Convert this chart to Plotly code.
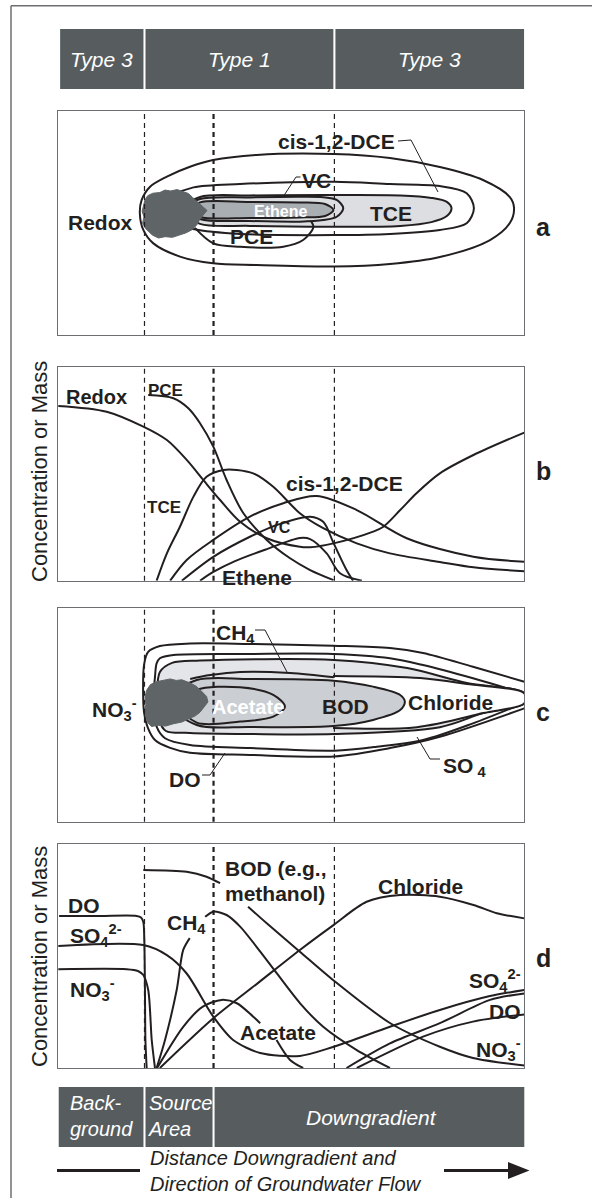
import plotly.graph_objects as go

W, H = 592, 1198
INK = '#231f20'
BOX = '#575d5f'
FRAME = '#6d6e71'
FONT = 'Liberation Sans, Arial, Helvetica, sans-serif'
TCE_FILL = '#dcdee1'
ETH_FILL = '#a9aeb3'
BLOB = '#5f6466'
C_LIGHT = '#e3e5e8'
C_MID = '#cbced3'

# ---------------- data (distance 0-100, relative concentration 0-100) ----------------
zone_bounds = [18.6, 33.4, 59.3]
zone_dash_width = [1.2, 2.2, 1.2]
header_labels = ['Type 3', 'Type 1', 'Type 3']
header_edges = [0.3, 18.6, 59.3, 100.2]
bottom_edges = [0.0, 18.6, 33.4, 100.5]

# panel a: chlorinated solvent plume contours
a_outer_x = [18.0, 19.8, 23.4, 28.35, 33.3, 42.65, 59.2, 71.2, 81.9, 91.15, 96.9, 97.8, 96.9, 92.65, 81.9, 71.2, 59.2, 42.65, 33.3, 26.2, 20.5, 18.35, 17.6, 18.0]
a_outer_y = [60.3, 66.2, 70.7, 75.1, 78.1, 80.4, 80.8, 79.0, 75.0, 69.2, 61.6, 56.7, 50.0, 42.4, 34.8, 31.7, 30.6, 31.25, 32.0, 35.0, 40.9, 46.9, 54.5, 60.3]
a_mid_x = [19.8, 24.8, 29.1, 39.07, 59.3, 71.2, 81.9, 87.65, 89.2, 87.65, 81.9, 71.2, 59.2, 39.07, 29.0, 24.1, 19.8]
a_mid_y = [54.9, 62.5, 65.9, 67.4, 68.4, 67.4, 66.5, 63.3, 56.6, 49.9, 46.9, 45.1, 44.6, 45.1, 47.3, 50.4, 54.9]
a_tce_x = [26.3, 30.5, 41.2, 59.2, 73.4, 80.1, 83.4, 84.4, 83.4, 80.1, 73.4, 59.2, 41.2, 30.5, 26.3]
a_tce_y = [55.8, 61.6, 62.3, 62.5, 62.3, 61.2, 59.4, 56.6, 53.1, 50.4, 48.7, 48.3, 48.7, 49.6, 55.8]
a_vc_x = [27.3, 30.5, 41.2, 51.9, 56.9, 59.8, 61.2, 59.8, 56.9, 51.9, 41.2, 30.5, 27.3]
a_vc_y = [56.7, 60.7, 61.4, 61.7, 61.5, 60.3, 56.6, 52.8, 51.3, 50.6, 50.9, 51.8, 56.7]
a_eth_x = [28.4, 30.5, 41.2, 51.9, 57.3, 59.1, 57.3, 51.9, 41.2, 30.5, 28.4]
a_eth_y = [55.8, 59.2, 59.4, 59.2, 58.5, 55.8, 53.1, 52.5, 52.2, 52.7, 55.8]
a_pce_x = [29.4, 33.35, 39.07, 48.35, 52.6, 54.8, 54.1]
a_pce_y = [47.8, 40.9, 39.4, 39.4, 42.4, 48.3, 51.3]
a_src_x = [18.7, 19.3, 20.4, 21.9, 23.0, 24.2, 25.6, 26.8, 28.0, 28.9, 29.9, 31.0, 32.0, 31.2, 30.4, 29.8, 28.7, 27.5, 26.0, 24.6, 23.0, 21.6, 20.3, 19.5, 18.8, 18.2, 18.5, 18.1, 18.4, 18.7]
a_src_y = [60.3, 62.2, 63.3, 63.6, 64.7, 64.3, 64.9, 63.9, 63.2, 61.4, 59.6, 57.8, 55.6, 53.6, 51.5, 49.1, 46.9, 45.6, 44.6, 43.6, 43.9, 43.3, 44.6, 46.3, 47.6, 50.0, 52.7, 55.2, 57.8, 60.3]

# panel b: concentration profiles
b_redox_x = [0.13, 10.5, 18.35, 23.4, 27.65, 31.2, 34.8, 39.1, 44.8, 51.9, 54.1, 59.1, 67.6, 69.8, 73.4, 76.9, 81.9, 89.1, 100]
b_redox_y = [81.9, 79.2, 72.2, 65.9, 56.6, 47.2, 37.8, 27.6, 19.9, 15.9, 15.7, 17.5, 23.0, 25.3, 33.1, 41.0, 50.3, 58.9, 69.4]
b_pce_x = [19.4, 24.8, 28.0, 30.5, 33.35, 36.2, 39.8, 44.8, 49.8, 54.1, 59.1]
b_pce_y = [87.0, 85.5, 80.8, 73.8, 62.8, 47.2, 31.6, 19.1, 10.5, 5.0, 0.3]
b_tce_x = [21.2, 23.4, 26.2, 29.1, 31.9, 35.5, 38.4, 41.9, 46.2, 51.9, 56.9, 64.1, 71.2, 81.9, 89.1, 100]
b_tce_y = [0, 12.8, 25.3, 39.4, 48.7, 51.9, 51.9, 50.3, 44.0, 31.6, 24.6, 17.5, 12.8, 8.8, 6.3, 4.4]
b_dce_x = [24.1, 27.65, 33.35, 41.2, 48.35, 55.5, 64.1, 74.8, 89.1, 100]
b_dce_y = [0, 9.7, 19.1, 30.0, 36.3, 39.7, 33.1, 19.9, 11.2, 8.9]
b_vc_x = [26.6, 33.35, 41.2, 47.5, 54.1, 56.9, 59.1, 61.9, 63.3]
b_vc_y = [0, 11.2, 20.6, 26.5, 30.0, 27.6, 17.7, 5.0, 0]
b_eth_x = [30.5, 33.35, 38.0, 44.8, 51.9, 54.1, 57.65, 60.5, 65.2]
b_eth_y = [0, 4.1, 9.2, 14.8, 20.0, 19.5, 12.8, 3.5, 0]

# panel c: fuel hydrocarbon plume contours
c_do_x = [100, 89.0, 78.3, 71.2, 59.0, 41.2, 28.35, 21.9, 19.35, 18.5, 18.3, 18.5, 19.35, 20.85, 24.1, 28.35, 41.2, 59.2, 71.2, 81.9, 100]
c_do_y = [65.6, 72.6, 79.1, 81.4, 82.5, 83.3, 83.5, 82.3, 79.5, 73.4, 61.8, 51.4, 43.9, 38.3, 34.6, 32.3, 31.3, 30.6, 34.5, 39.8, 53.1]
c_so4_x = [99.8, 89.0, 78.3, 71.2, 59.0, 41.2, 24.8, 21.9, 21.2, 20.85, 20.5, 20.85, 21.2, 23.0, 28.35, 41.2, 59.3, 68.4, 78.3, 89.0, 99.8]
c_so4_y = [60.2, 67.2, 73.4, 76.6, 78.6, 78.6, 78.1, 76.6, 74.2, 67.9, 57.0, 50.0, 44.5, 39.1, 35.9, 34.5, 33.3, 35.1, 38.3, 46.1, 55.5]
c_ch4_x = [21.3, 21.9, 24.5, 30.5, 59.2, 74.9, 87.7, 100, 100, 91.2, 81.9, 59.2, 41.2, 28.35, 23.2, 21.7, 21.3]
c_ch4_y = [59.4, 70.1, 74.4, 75.5, 75.8, 72.0, 65.0, 60.2, 55.5, 50.9, 44.3, 41.1, 41.1, 41.6, 42.5, 47.7, 59.4]
c_cl_x = [59.0, 77.7, 87.7, 100, 100, 91.2, 77.0, 59.0]
c_cl_y = [68.3, 67.3, 64.5, 60.2, 55.5, 50.9, 44.3, 43.9]
c_bod_x = [23.0, 29.8, 41.2, 59.1, 67.6, 73.4, 74.4, 73.4, 67.6, 59.1, 41.2, 29.8, 23.0]
c_bod_y = [57.0, 66.4, 66.9, 66.1, 63.3, 59.4, 56.2, 52.3, 47.7, 44.8, 44.4, 45.3, 57.0]
c_ace_x = [26.2, 29.8, 39.07, 46.2, 48.7, 46.2, 39.07, 29.8, 26.2]
c_ace_y = [54.7, 61.7, 63.0, 59.4, 53.9, 49.2, 46.9, 46.4, 54.7]
c_meth_x = [28.4, 32.7, 39.07, 49.8, 59.2]
c_meth_y = [66.9, 68.7, 70.2, 69.7, 67.7]
c_src_x = [19.1, 19.9, 21.2, 22.4, 24.1, 25.4, 26.6, 28.4, 29.6, 30.8, 31.9, 32.2, 31.4, 30.5, 29.5, 28.3, 26.6, 24.8, 23.1, 21.5, 20.1, 19.2, 18.9, 18.6, 18.9, 18.7, 19.1]
c_src_y = [61.7, 64.3, 65.6, 66.1, 66.9, 66.2, 66.5, 65.0, 63.6, 61.2, 58.7, 56.1, 53.7, 51.3, 49.6, 48.3, 46.7, 45.9, 44.8, 45.2, 44.6, 46.7, 49.5, 52.2, 55.0, 58.4, 61.7]

# panel d: electron acceptor / donor profiles
d_do_x = [0.3, 9.07, 16.9, 17.85, 18.35, 18.56, 18.7, 18.8, 19.07, None, 61.9, 71.2, 81.9, 92.65, 100]
d_do_y = [67.9, 67.9, 67.9, 67.2, 65.2, 57.1, 34.8, 12.5, 0, None, 0, 11.0, 20.0, 30.4, 33.3]
d_so4_x = [0.13, 18.35, 23.4, 27.6, 33.35, 37.6, 43.4, 51.9, 59.0, 71.2, 81.9, 92.65, 100]
d_so4_y = [54.5, 54.9, 50.4, 42.3, 22.9, 12.5, 6.7, 5.4, 9.4, 18.4, 25.9, 32.1, 34.8]
d_no3_x = [0.13, 14.8, 17.2, 18.35, 19.4, 20.15, 20.85, None, 64.1, 78.3, 89.0, 100]
d_no3_y = [44.1, 44.1, 43.3, 41.5, 34.8, 12.5, 0, None, 0, 14.0, 20.7, 23.9]
d_bod_x = [18.35, 27.65, 31.9, 34.8, None, 40.8, 44.8, 51.9, 59.0, 71.2, 81.9, 89.0, 100]
d_bod_y = [88.4, 87.6, 85.4, 82.5, None, 72.0, 64.6, 51.9, 39.3, 20.1, 9.5, 4.5, 1.1]
d_ch4_x = [21.2, 23.0, 25.5, 26.9, 28.3, None, 31.6, 33.35, 36.2, 39.1, 44.8, 51.9, 56.9, 64.1, 71.2]
d_ch4_y = [0, 12.5, 34.8, 52.7, 58.0, None, 67.5, 69.8, 68.3, 63.1, 48.2, 29.0, 18.4, 8.0, 0]
d_ace_x = [21.3, 26.9, 31.1, 35.1, 38.4, 41.9, 43.4, None, 46.9, 49.8, 52.6]
d_ace_y = [0, 18.4, 27.4, 30.4, 28.9, 22.9, 20.0, None, 12.5, 3.6, 0]
d_cl_x = [21.9, 33.35, 42.9, 51.9, 59.1, 66.2, 73.4, 81.9, 89.1, 94.1, 100]
d_cl_y = [0, 22.2, 37.9, 52.7, 63.8, 74.2, 77.2, 76.5, 72.8, 69.1, 66.8]

# ---------------- layout geometry (pixels) ----------------
PX_L, PX_R = 57.7, 524.3
panels = [(111, 335), (367.3, 580.7), (608.3, 821.7), (844, 1068)]


def px(xp):
    return xp / W


def py(yp):
    return 1 - yp / H


fig = go.Figure()


def sfx(i):
    return '' if i == 0 else str(i + 1)


def add(xs, ys, i, fill=None, width=2.0, shape='spline', smooth=0.9, linecolor=INK):
    s = sfx(i)
    kw = {}
    if fill is not None:
        kw = dict(fill='toself', fillcolor=fill)
    fig.add_trace(go.Scatter(
        x=xs, y=ys, mode='lines', xaxis='x' + s, yaxis='y' + s,
        line=dict(color=linecolor, width=width, shape=shape,
                  smoothing=smooth if shape == 'spline' else None),
        hoverinfo='skip', showlegend=False, **kw))


# panel a
add(a_outer_x, a_outer_y, 0)
add(a_mid_x, a_mid_y, 0)
add(a_tce_x, a_tce_y, 0, fill=TCE_FILL)
add(a_pce_x, a_pce_y, 0)
add(a_vc_x, a_vc_y, 0, fill=TCE_FILL)
add(a_eth_x, a_eth_y, 0, fill=ETH_FILL)
add(a_src_x, a_src_y, 0, fill=BLOB, shape='linear', linecolor=BLOB, width=1)

# panel b
for xs, ys in [(b_redox_x, b_redox_y), (b_pce_x, b_pce_y), (b_tce_x, b_tce_y),
               (b_dce_x, b_dce_y), (b_vc_x, b_vc_y), (b_eth_x, b_eth_y)]:
    add(xs, ys, 1)

# panel c
add(c_do_x, c_do_y, 2)
add(c_so4_x, c_so4_y, 2)
add(c_ch4_x, c_ch4_y, 2, fill=C_LIGHT)
add(c_cl_x, c_cl_y, 2, fill='white')
add(c_bod_x, c_bod_y, 2, fill=C_MID)
add(c_ace_x, c_ace_y, 2, fill=C_MID)
add(c_meth_x, c_meth_y, 2)
add(c_src_x, c_src_y, 2, fill=BLOB, shape='linear', linecolor=BLOB, width=1)

# panel d
for xs, ys in [(d_do_x, d_do_y), (d_so4_x, d_so4_y), (d_no3_x, d_no3_y),
               (d_bod_x, d_bod_y), (d_ch4_x, d_ch4_y), (d_ace_x, d_ace_y),
               (d_cl_x, d_cl_y)]:
    add(xs, ys, 3, smooth=0.8)

layout = dict(width=W, height=H, margin=dict(l=0, r=0, t=0, b=0),
              paper_bgcolor='white', plot_bgcolor='rgba(0,0,0,0)', showlegend=False)
for i, (top, bot) in enumerate(panels):
    s = sfx(i)
    layout['xaxis' + s] = dict(domain=[px(PX_L), px(PX_R)], range=[0, 100], anchor='y' + s,
                               showgrid=False, zeroline=False, showticklabels=False, ticks='',
                               showline=True, mirror=True, linecolor=FRAME, linewidth=1.3,
                               fixedrange=True)
    layout['yaxis' + s] = dict(domain=[py(bot), py(top)], range=[0, 100], anchor='x' + s,
                               showgrid=False, zeroline=False, showticklabels=False, ticks='',
                               showline=True, mirror=True, linecolor=FRAME, linewidth=1.3,
                               fixedrange=True)
fig.update_layout(**layout)

shapes = []
# zone dashed lines
for i in range(4):
    s = sfx(i)
    for b, w in zip(zone_bounds, zone_dash_width):
        shapes.append(dict(type='line', xref='x' + s, yref='y' + s + ' domain', x0=b, x1=b,
                           y0=0, y1=1, line=dict(color=INK, width=w, dash='5px,4px'), layer='above'))

gap = 0.22
for k in range(3):
    shapes.append(dict(type='rect', xref='x', yref='paper', x0=header_edges[k] + gap,
                       x1=header_edges[k + 1] - gap, y0=py(89), y1=py(29),
                       fillcolor=BOX, line=dict(width=0), layer='below'))
    shapes.append(dict(type='rect', xref='x', yref='paper', x0=bottom_edges[k] + gap,
                       x1=bottom_edges[k + 1] - gap, y0=py(1147), y1=py(1087),
                       fillcolor=BOX, line=dict(width=0), layer='below'))

# outer frame (left and top)
shapes.append(dict(type='line', xref='paper', yref='paper', x0=px(11), x1=px(11), y0=py(5.7), y1=0,
                   line=dict(color=FRAME, width=1.5)))
shapes.append(dict(type='line', xref='paper', yref='paper', x0=px(11), x1=1, y0=py(5.7), y1=py(5.7),
                   line=dict(color=FRAME, width=1.5)))

# flow arrow
shapes.append(dict(type='line', xref='paper', yref='paper', x0=px(57), x1=px(140), y0=py(1170.5),
                   y1=py(1170.5), line=dict(color=INK, width=3)))
shapes.append(dict(type='line', xref='paper', yref='paper', x0=px(444), x1=px(510), y0=py(1170.5),
                   y1=py(1170.5), line=dict(color=INK, width=3)))
shapes.append(dict(type='path', xref='paper', yref='paper',
                   path=f'M {px(508)} {py(1162)} L {px(529.5)} {py(1170.5)} L {px(508)} {py(1179)} Z',
                   fillcolor=INK, line=dict(width=0)))


def leader(pts):
    path = 'M ' + ' L '.join(f'{px(a)} {py(b)}' for a, b in pts)
    shapes.append(dict(type='path', xref='paper', yref='paper', path=path,
                       line=dict(color=INK, width=1)))


leader([(398, 141), (411, 140), (438, 192)])
leader([(300.5, 177), (296, 177), (283, 197)])
leader([(255, 630), (265, 630), (287, 672)])
leader([(440, 759), (430, 759), (417, 737)])
leader([(202, 775), (210, 775), (225, 753)])
fig.update_layout(shapes=shapes)

anns = []


def ann(text, x, y, size=21, bold=True, color=INK, xa='center', ya='middle', italic=False,
        angle=0, align='center'):
    anns.append(dict(x=px(x), y=py(y), xref='paper', yref='paper', text=text, showarrow=False,
                     font=dict(family=FONT, size=size, color=color,
                               weight='bold' if bold else 'normal',
                               style='italic' if italic else 'normal'),
                     xanchor=xa, yanchor=ya, textangle=angle, align=align))


# header / footer
for k, lab in enumerate(header_labels):
    xc = PX_L + (header_edges[k] + header_edges[k + 1]) / 2 * (PX_R - PX_L) / 100
    ann(lab, xc, 59, bold=False, italic=True, color='white')
ann('Back-<br>ground', 68, 1116, size=20, bold=False, italic=True, color='white', xa='left', align='left')
ann('Source<br>Area', 145.5, 1116, size=20, bold=False, italic=True, color='white', xa='left', align='left')
ann('Downgradient', 371.7, 1117, bold=False, italic=True, color='white')
ann('Distance Downgradient and<br>Direction of Groundwater Flow', 148, 1171, size=20,
    bold=False, italic=True, xa='left', align='left')

# y titles
ann('Concentration or Mass', 39, 472, size=22, bold=False, angle=-90)
ann('Concentration or Mass', 39, 957, size=22, bold=False, angle=-90)

# panel letters
for let, yy in zip('abcd', [227, 471, 712, 958]):
    ann(let, 543, yy, size=25)

# panel a labels
ann('cis-1,2-DCE', 336.4, 142)
ann('VC', 316, 180)
ann('Redox', 100, 222.7)
ann('PCE', 251.7, 236.7)
ann('Ethene', 280, 211.7, size=16, color='white')
ann('TCE', 390.7, 213.3)

# panel b labels
ann('Redox', 96.7, 397, size=20)
ann('PCE', 165, 390, size=17)
ann('TCE', 164, 507.5, size=17)
ann('Ethene', 256.7, 577)
ann('VC', 279, 527.5, size=16)
ann('cis-1,2-DCE', 344.7, 484)

# panel c labels
ann('NO<sub>3</sub><sup>-</sup>', 115, 709)
ann('CH<sub>4</sub>', 235, 634)
ann('Acetate', 248, 707, size=20, color='white')
ann('BOD', 345, 706)
ann('Chloride', 450.5, 702)
ann('SO<sub> 4</sub>', 464, 767)
ann('DO', 185, 779)

# panel d labels
ann('DO', 84, 905)
ann('SO<sub>4</sub><sup>2-</sup>', 68, 935, xa='left')
ann('NO<sub>3</sub><sup>-</sup>', 68, 989, xa='left')
ann('CH<sub>4</sub>', 186.5, 923.5)
ann('BOD (e.g.,', 223, 868.5, xa='left')
ann('methanol)', 223, 893, xa='left')
ann('Chloride', 420.7, 886)
ann('Acetate', 277.5, 1032.5)
ann('SO<sub>4</sub><sup>2-</sup>', 523, 981, xa='right')
ann('DO', 523, 1011, xa='right')
ann('NO<sub>3</sub><sup>-</sup>', 523, 1049, xa='right')

fig.update_layout(annotations=anns)
fig.write_html('out.html')
